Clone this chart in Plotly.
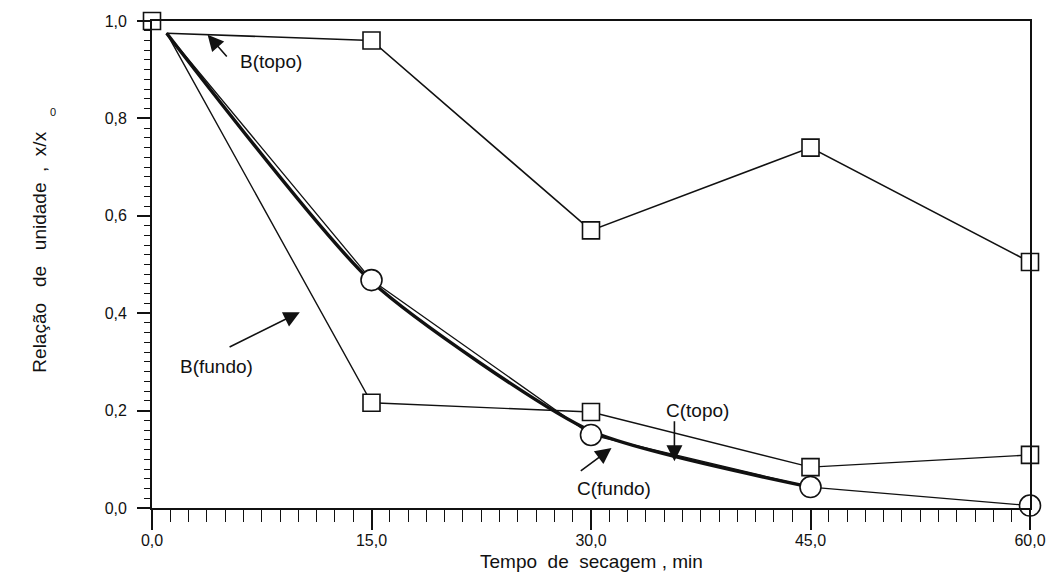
import plotly.graph_objects as go

# Drying time (min) and moisture ratio x/x0 readings
tempo = [0, 15, 30, 45, 60]
b_topo = [1.0, 0.96, 0.57, 0.74, 0.505]
b_fundo = [1.0, 0.216, 0.197, 0.084, 0.109]
c_fundo = [1.0, 0.468, 0.15, 0.043, 0.005]

# Curves leave a common starting point just after t = 0
inicio_t = 1.0
inicio_y = 0.975

# Heavy curve for C(topo)
c_topo_t = [1.0, 15, 30, 45]
c_topo = [0.975, 0.465, 0.158, 0.043]

x_ticks = [0, 15, 30, 45, 60]
x_labels = ["0,0", "15,0", "30,0", "45,0", "60,0"]
y_ticks = [0.0, 0.2, 0.4, 0.6, 0.8, 1.0]
y_labels = ["0,0", "0,2", "0,4", "0,6", "0,8", "1,0"]

INK = "#111111"
FONT = "Liberation Sans, Arial, sans-serif"

fig = go.Figure()

# connecting lines (start from the common origin point)
fig.add_trace(go.Scatter(
    x=[inicio_t] + tempo[1:], y=[inicio_y] + b_topo[1:], mode="lines",
    line=dict(color=INK, width=1.6), hoverinfo="skip", showlegend=False))
fig.add_trace(go.Scatter(
    x=[inicio_t] + tempo[1:], y=[inicio_y] + b_fundo[1:], mode="lines",
    line=dict(color=INK, width=1.4), hoverinfo="skip", showlegend=False))
fig.add_trace(go.Scatter(
    x=[inicio_t] + tempo[1:], y=[inicio_y] + c_fundo[1:], mode="lines",
    line=dict(color=INK, width=1.3), hoverinfo="skip", showlegend=False))
fig.add_trace(go.Scatter(
    x=c_topo_t, y=c_topo, mode="lines",
    line=dict(color=INK, width=3.4, shape="spline", smoothing=0.6),
    hoverinfo="skip", showlegend=False))

# open markers
fig.add_trace(go.Scatter(
    x=tempo, y=b_topo, mode="markers", cliponaxis=False,
    marker=dict(symbol="square", size=17, color="white",
                line=dict(color=INK, width=1.6)), showlegend=False))
fig.add_trace(go.Scatter(
    x=tempo[1:], y=b_fundo[1:], mode="markers", cliponaxis=False,
    marker=dict(symbol="square", size=17, color="white",
                line=dict(color=INK, width=1.6)), showlegend=False))
fig.add_trace(go.Scatter(
    x=tempo[1:], y=c_fundo[1:], mode="markers", cliponaxis=False,
    marker=dict(symbol="circle", size=21, color="white",
                line=dict(color=INK, width=1.6)), showlegend=False))

ann_font = dict(family=FONT, size=19, color=INK)

def arrow(tail, head):
    fig.add_annotation(x=head[0], y=head[1], ax=tail[0], ay=tail[1],
                       xref="x", yref="y", axref="x", ayref="y",
                       text="", showarrow=True, arrowhead=2, arrowsize=2.0,
                       arrowwidth=1.6, arrowcolor=INK)

def label(pos, txt):
    fig.add_annotation(x=pos[0], y=pos[1], xref="x", yref="y", text=txt,
                       showarrow=False, font=ann_font)

label((8.1, 0.916), "B(topo)")
arrow((5.2, 0.924), (3.8, 0.972))
label((4.4, 0.29), "B(fundo)")
arrow((5.2, 0.329), (10.1, 0.402))
label((37.3, 0.201), "C(topo)")
arrow((35.7, 0.181), (35.7, 0.096))
label((31.6, 0.04), "C(fundo)")
arrow((29.2, 0.074), (31.4, 0.123))

# axis titles (the x/x0 subscript sits just past the end of the rotated title)
fig.add_annotation(x=-0.142, y=0.526, xref="paper", yref="paper",
                   text="Relação   de   unidade  ,  x/x", textangle=-90,
                   showarrow=False, font=dict(family=FONT, size=19, color=INK))
fig.add_annotation(x=-0.118, y=0.83, xref="paper", yref="paper",
                   text="0", showarrow=False,
                   font=dict(family=FONT, size=11, color=INK))
fig.add_annotation(x=0.5, y=-0.136, xref="paper", yref="paper",
                   text="Tempo  de  secagem , min", showarrow=False,
                   font=dict(family=FONT, size=19, color=INK))

fig.update_xaxes(
    range=[0, 60], tickvals=x_ticks, ticktext=x_labels,
    showline=True, linecolor=INK, linewidth=1.8, mirror=True,
    ticks="outside", ticklen=20, tickwidth=1.5, tickcolor=INK,
    ticklabelstandoff=-3,
    minor=dict(dtick=1.25, tick0=0, ticks="outside", ticklen=12,
               tickwidth=1.3, tickcolor=INK),
    showgrid=False, zeroline=False,
    tickfont=dict(family=FONT, size=16, color=INK))
fig.update_yaxes(
    range=[0, 1.0], tickvals=y_ticks, ticktext=y_labels,
    showline=True, linecolor=INK, linewidth=1.8, mirror=True,
    ticks="outside", ticklen=13, tickwidth=1.5, tickcolor=INK,
    ticklabelstandoff=7,
    minor=dict(dtick=0.02, tick0=0, ticks="outside", ticklen=6,
               tickwidth=1.2, tickcolor=INK),
    showgrid=False, zeroline=False,
    tickfont=dict(family=FONT, size=16, color=INK))

fig.update_layout(
    width=1061, height=584,
    margin=dict(l=152, r=31, t=21, b=76),
    paper_bgcolor="white", plot_bgcolor="white",
    font=dict(family=FONT, color=INK),
)

fig.write_html("out.html")
